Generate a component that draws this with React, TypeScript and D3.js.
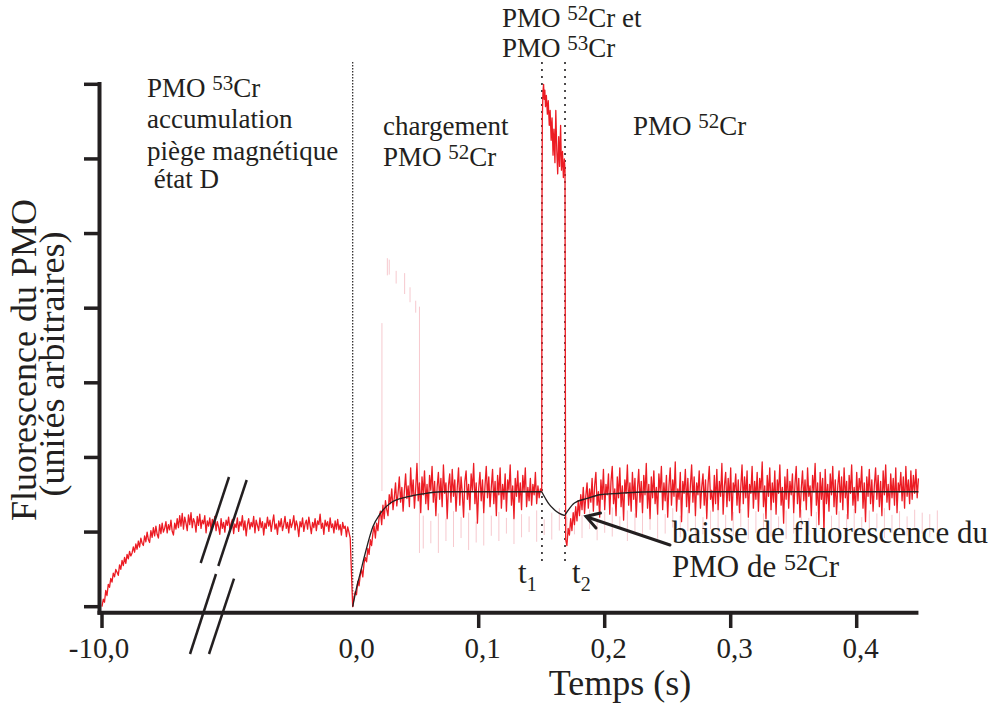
import React from 'react';
import * as d3 from 'd3';

// ---------- DATA ----------
// Left segment (before the axis break), time in s
const leftStart = -10.0;
const leftStep = 0.05;
const leftValues = [
  0.00, 0.10, 0.06, 0.22, 0.15, 0.30, 0.26, 0.38, 0.33, 0.45,
  0.40, 0.50, 0.46, 0.42, 0.56, 0.50, 0.62, 0.55, 0.66, 0.58,
  0.70, 0.64, 0.74, 0.68, 0.72, 0.80, 0.73, 0.84, 0.77, 0.88,
  0.80, 0.92, 0.85, 0.82, 0.95, 0.87, 1.00, 0.90, 0.86, 1.02,
  0.93, 1.06, 0.95, 1.08, 0.97, 0.92, 1.10, 0.98, 1.12, 1.00,
  1.05, 1.14, 0.99, 1.10, 1.03, 1.16, 1.01, 0.96, 1.12, 1.04,
  1.18, 1.06, 1.22, 1.08, 1.25, 1.04, 1.20, 1.12, 1.02, 1.23,
  1.10, 1.26, 1.06, 1.18, 1.13, 1.00, 1.21, 1.09, 1.24, 1.05,
  1.16, 1.11, 1.22, 0.99, 1.15, 1.08, 1.19, 1.03, 1.17, 1.10,
  1.21, 1.02, 1.14, 1.07, 0.97, 1.18, 1.05, 1.13, 1.00, 1.16,
  1.09, 1.20, 1.04, 1.12, 1.17, 0.98, 1.11, 1.06, 1.19, 1.01,
  1.14, 1.08, 1.22, 1.03, 1.15, 0.95, 1.10, 1.18, 1.04, 1.13,
  1.07, 1.21, 0.99, 1.16, 1.09, 1.02, 1.19, 1.06, 1.14, 0.96,
  1.12, 1.05, 1.20, 1.08, 1.16, 1.01, 1.13, 1.23, 1.04, 1.11,
  0.97, 1.15, 1.07, 1.18, 1.02, 1.10, 1.21, 1.05, 1.13, 0.99,
  1.17, 1.06, 1.12, 1.22, 1.03, 1.15, 1.08, 0.94, 1.14, 1.07,
  1.19, 1.01, 1.11, 1.16, 1.04, 1.20, 1.09, 0.98, 1.13, 1.06,
  1.18, 1.02, 1.15, 1.10, 1.24, 1.05, 1.12, 0.97, 1.16, 1.08,
  1.14, 1.01, 1.19, 1.06, 1.11, 0.99, 1.15, 1.04, 1.17, 1.03,
  1.10, 0.96, 1.13, 1.05, 1.08, 0.94, 1.07, 1.00, 0.92,
];

// Loading of the 52Cr MOT (0 -> t1)
const loadStart = 0;
const loadStep = 0.001;
const loadValues = [
  0.00, 0.12, 0.20, 0.16, 0.34, 0.28, 0.42, 0.50, 0.40, 0.58,
  0.66, 0.60, 0.78, 0.70, 0.90, 0.82, 0.98, 1.08, 0.92, 1.12,
  1.02, 1.20, 1.28, 1.10, 1.36, 1.18, 1.42, 1.30, 1.22, 1.50,
  1.38, 1.58, 1.30, 1.46, 1.66, 1.35, 1.52, 1.74, 1.40, 1.60,
  1.28, 1.55, 1.78, 1.45, 1.62, 1.34, 1.86, 1.48, 1.70, 1.32,
  1.58, 1.92, 1.42, 1.66, 1.26, 1.74, 1.50, 1.82, 1.38, 1.64,
  1.30, 1.76, 1.56, 1.88, 1.40, 1.68, 1.22, 1.60, 1.80, 1.44,
  1.72, 1.34, 1.90, 1.52, 1.66, 1.18, 1.62, 1.78, 1.40, 1.84,
  1.48, 1.70, 1.28, 1.60, 1.86, 1.36, 1.74, 1.52, 1.20, 1.68,
  1.82, 1.44, 1.64, 1.30, 1.78, 1.56, 1.92, 1.38, 1.66, 1.12,
  1.58, 1.80, 1.42, 1.70, 1.26, 1.62, 1.88, 1.46, 1.74, 1.34,
  1.60, 1.84, 1.38, 1.68, 1.22, 1.76, 1.50, 1.86, 1.32, 1.64,
  1.44, 1.78, 1.28, 1.70, 1.56, 1.90, 1.36, 1.62, 1.18, 1.72,
  1.48, 1.82, 1.40, 1.66, 1.30, 1.76, 1.54, 1.86, 1.34, 1.60,
  1.42, 1.72, 1.36, 1.64, 1.50, 1.80, 1.38, 1.62, 1.46, 1.58,
  1.54,
];

// Both MOTs (t1 -> t2)
const peakTimes = [
  0.1502, 0.1505, 0.1510, 0.1515, 0.1520, 0.1525, 0.1530, 0.1537, 0.1545, 0.1552,
  0.1560, 0.1567, 0.1575, 0.1582, 0.1590, 0.1597, 0.1605, 0.1612, 0.1620, 0.1627,
  0.1635, 0.1642, 0.1650, 0.1657, 0.1665, 0.1672, 0.1680, 0.1685,
];
const peakValues = [
  5.20, 6.55, 6.90, 7.00, 6.80, 6.92, 6.70, 6.85, 6.60, 6.78,
  6.45, 6.65, 6.25, 6.55, 6.05, 6.40, 5.95, 6.65, 6.10, 5.80,
  6.30, 5.90, 6.45, 5.85, 6.10, 5.75, 6.00, 5.85,
];

// After t2
const recStart = 0.169;
const recStep = 0.001;
const recValues = [
  0.90, 0.82, 1.05, 0.96, 1.18, 1.02, 1.26, 1.10, 1.34, 1.15,
  1.42, 1.22, 1.50, 1.30, 1.60, 1.25, 1.48, 1.66, 1.32, 1.58,
  1.40, 1.72, 1.28, 1.62, 1.80, 1.36, 1.54, 1.20, 1.70, 1.44,
  1.84, 1.30, 1.64, 1.50, 1.78, 1.24, 1.68, 1.88, 1.38, 1.58,
  1.22, 1.74, 1.46, 1.86, 1.34, 1.62, 1.16, 1.70, 1.52, 1.90,
  1.36, 1.66, 1.28, 1.80, 1.44, 1.72, 1.20, 1.58, 1.84, 1.40,
  1.68, 1.26, 1.76, 1.50, 1.92, 1.32, 1.64, 1.18, 1.74, 1.46,
  1.82, 1.38, 1.60, 1.24, 1.78, 1.54, 1.88, 1.30, 1.66, 1.42,
  1.76, 1.20, 1.62, 1.86, 1.36, 1.70, 1.48, 1.94, 1.28, 1.58,
  1.44, 1.80, 1.14, 1.68, 1.52, 1.84, 1.34, 1.72, 1.26, 1.62,
  1.90, 1.40, 1.74, 1.22, 1.66, 1.50, 1.82, 1.32, 1.60, 1.78,
  1.36, 1.70, 1.18, 1.64, 1.88, 1.44, 1.56, 1.28, 1.76, 1.38,
  1.84, 1.30, 1.68, 1.48, 1.92, 1.24, 1.62, 1.80, 1.34, 1.72,
  1.42, 1.86, 1.16, 1.66, 1.54, 1.78, 1.36, 1.70, 1.26, 1.60,
  1.90, 1.38, 1.74, 1.46, 1.82, 1.20, 1.64, 1.52, 1.88, 1.32,
  1.68, 1.44, 1.80, 1.28, 1.72, 1.56, 1.94, 1.34, 1.62, 1.18,
  1.76, 1.48, 1.86, 1.30, 1.66, 1.40, 1.82, 1.24, 1.70, 1.52,
  1.90, 1.36, 1.60, 1.12, 1.74, 1.44, 1.84, 1.32, 1.68, 1.50,
  1.78, 1.26, 1.64, 1.88, 1.38, 1.72, 1.20, 1.58, 1.82, 1.42,
  1.70, 1.30, 1.86, 1.48, 1.62, 1.22, 1.76, 1.54, 1.92, 1.36,
  1.66, 1.10, 1.80, 1.44, 1.72, 1.00, 1.84, 1.38, 1.64, 1.28,
  1.78, 1.50, 1.88, 1.34, 1.70, 1.24, 1.62, 1.82, 1.40, 1.74,
  1.30, 1.86, 1.46, 1.68, 1.18, 1.76, 1.52, 1.90, 1.36, 1.60,
  1.26, 1.80, 1.42, 1.72, 1.56, 1.88, 1.32, 1.66, 1.14, 1.74,
  1.48, 1.84, 1.38, 1.70, 1.28, 1.62, 1.86, 1.44, 1.76, 1.34,
  1.68, 1.22, 1.82, 1.50, 1.90, 1.40, 1.64, 1.30, 1.78, 1.46,
  1.72, 1.36, 1.86, 1.26, 1.66, 1.54, 1.80, 1.42, 1.74, 1.32,
  1.88, 1.48, 1.70, 1.38, 1.82, 1.44, 1.76, 1.52, 1.84, 1.46,
  1.72,
];

// Fitted curves (black)
const fitLoadTimes = [0, 0.003, 0.006, 0.01, 0.016, 0.022, 0.03, 0.043, 0.055, 0.07, 0.15];
const fitLoadValues = [0, 0.25, 0.45, 0.72, 1.07, 1.25, 1.39, 1.47, 1.51, 1.54, 1.54];
const fitDipTimes = [0.150, 0.153, 0.156, 0.160, 0.164, 0.1685];
const fitDipValues = [1.54, 1.45, 1.37, 1.30, 1.25, 1.22];
const fitRecTimes = [0.1685, 0.176, 0.186, 0.196, 0.212, 0.24, 0.449];
const fitRecValues = [1.23, 1.39, 1.45, 1.50, 1.52, 1.54, 1.54];

// Faint ghost trace
const ghostHiTimes = [0.0232, 0.0275, 0.0290, 0.0345, 0.0412, 0.0455, 0.0500, 0.0530];
const ghostHiTop = [3.80, 4.67, 4.65, 4.50, 4.47, 4.28, 4.10, 4.02];
const ghostHiBot = [1.55, 4.44, 4.45, 4.33, 4.19, 4.08, 3.94, 0.72];
const ghostLoStart = 0.056;
const ghostLoStep = 0.006;
const ghostLoTop = [
  1.22, 1.15, 1.25, 1.18, 1.28, 1.20, 1.26, 1.14, 1.30, 1.22,
  1.27, 1.19, 1.31, 1.24, 1.21, 1.29, 1.17, 1.26, 1.32, 1.20,
  1.28, 1.23, 1.30, 1.18, 1.27, 1.33, 1.21, 1.29, 1.25, 1.31,
  1.19, 1.28, 1.24, 1.32, 1.22, 1.30, 1.26, 1.20, 1.29, 1.33,
  1.23, 1.27, 1.31, 1.18, 1.28, 1.25, 1.32, 1.21, 1.29, 1.26,
  1.30, 1.19, 1.27, 1.33, 1.22, 1.28, 1.24, 1.31, 1.20, 1.29,
  1.25, 1.32, 1.23, 1.28, 1.21, 1.30, 1.26, 1.24, 1.29,
];
const ghostLoBot = [
  0.78, 0.85, 0.72, 0.88, 0.80, 0.92, 0.76, 0.86, 0.82, 0.95,
  0.88, 0.98, 0.84, 0.93, 1.00, 0.87, 0.96, 0.90, 1.02, 0.86,
  0.97, 0.92, 1.04, 0.89, 0.99, 0.94, 1.05, 0.88, 1.00, 0.96,
  1.03, 0.91, 0.98, 1.06, 0.93, 1.01, 0.89, 0.97, 1.04, 0.92,
  1.00, 0.95, 1.07, 0.90, 0.99, 1.03, 0.94, 1.05, 0.91, 0.98,
  1.02, 0.96, 1.06, 0.93, 1.00, 0.89, 1.04, 0.97, 1.01, 0.94,
  1.05, 0.92, 0.99, 1.03, 0.95, 1.06, 0.98, 0.93, 1.02,
];

// Axes
const yTickValues = [0, 1, 2, 3, 4, 5, 6, 7];
const xTickValues = [0.1, 0.2, 0.3, 0.4];
const xTickLabels = ['0,1', '0,2', '0,3', '0,4'];
const leftTickValue = -10;
const leftTickLabel = '-10,0';
const zeroLabel = '0,0';
const t1 = 0.1502;
const t2 = 0.1685;

// ---------- CHART ----------
const INK = '#231f20';
const RED = '#ec1c24';
const FONT = 'Liberation Serif';

export default function App() {
  const xR = d3.scaleLinear().domain([0, 0.4]).range([352.7, 856.7]);
  const xL = d3.scaleLinear().domain([-10, 0]).range([102, 352.7]);
  const y = d3.scaleLinear().domain([0, 7]).range([606.7, 84.3]);

  const pts: [number, number][] = [];
  leftValues.forEach((v, i) => pts.push([xL(leftStart + i * leftStep), y(v)]));
  loadValues.forEach((v, i) => pts.push([xR(loadStart + i * loadStep), y(v)]));
  peakValues.forEach((v, i) => pts.push([xR(peakTimes[i]), y(v)]));
  recValues.forEach((v, i) => pts.push([xR(recStart + i * recStep), y(v)]));
  const redPath = d3.line<[number, number]>()(pts) || '';

  const mkFit = (ts: number[], vs: number[]) =>
    d3
      .line<number>()
      .x((t) => xR(t))
      .y((_, i) => y(vs[i]))
      .curve(d3.curveMonotoneX)(ts) || '';

  const axisY = 612.7;
  const axisX = 99.5;
  const xEnd = xR(0.449);

  const sup = (n: string, fs = 21, dy = 7) => (
    <>
      <tspan dy={-dy} fontSize={fs}>{n}</tspan>
      <tspan dy={dy}>Cr</tspan>
    </>
  );

  return (
    <svg
      width={1001}
      height={707}
      style={{ position: 'absolute', left: 0, top: 0, background: '#fff' }}
      fontFamily={FONT}
    >
      <rect width={1001} height={707} fill="#fff" />

      {/* ghost trace */}
      <g stroke="#f2a7b0" strokeWidth={1} opacity={0.6}>
        {ghostHiTimes.map((t, i) => (
          <line key={'gh' + i} x1={xR(t)} x2={xR(t)} y1={y(ghostHiTop[i])} y2={y(ghostHiBot[i])} />
        ))}
        {ghostLoTop.map((v, i) => {
          const t = ghostLoStart + i * ghostLoStep;
          return <line key={'gl' + i} x1={xR(t)} x2={xR(t)} y1={y(v)} y2={y(ghostLoBot[i])} />;
        })}
      </g>

      {/* vertical dotted markers */}
      <line x1={xR(0)} x2={xR(0)} y1={62} y2={y(0)} stroke={INK} strokeWidth={1.2} strokeDasharray="1.5,1.5" />
      <line x1={xR(t1)} x2={xR(t1)} y1={62} y2={566} stroke={INK} strokeWidth={1.6} strokeDasharray="2,5" />
      <line x1={xR(t2)} x2={xR(t2)} y1={62} y2={566} stroke={INK} strokeWidth={1.6} strokeDasharray="2,5" />

      {/* data */}
      <path d={redPath} fill="none" stroke={RED} strokeWidth={1.3} strokeLinejoin="round" />

      {/* fits */}
      <g fill="none" stroke={INK} strokeWidth={1.3}>
        <path d={mkFit(fitLoadTimes, fitLoadValues)} />
        <path d={mkFit(fitDipTimes, fitDipValues)} />
        <path d={mkFit(fitRecTimes, fitRecValues)} />
      </g>

      {/* axes */}
      <g stroke={INK} strokeWidth={4}>
        <line x1={axisX} x2={axisX} y1={82} y2={axisY + 2} />
        <line x1={axisX - 2} x2={xEnd} y1={axisY} y2={axisY} />
        {yTickValues.map((v) => (
          <line key={'yt' + v} x1={84} x2={axisX} y1={y(v)} y2={y(v)} strokeWidth={3.5} />
        ))}
        {xTickValues.map((v) => (
          <line key={'xt' + v} x1={xR(v)} x2={xR(v)} y1={axisY} y2={628} strokeWidth={3.5} />
        ))}
        <line x1={xL(leftTickValue)} x2={xL(leftTickValue)} y1={axisY} y2={628} strokeWidth={3.5} />
      </g>

      {/* axis break marks */}
      <g stroke={INK} strokeWidth={2.5}>
        <line x1={200.7} y1={563} x2={229} y2={477} />
        <line x1={218.3} y1={566} x2={246.7} y2={480} />
        <line x1={216} y1={574} x2={190} y2={654} />
        <line x1={234} y1={578.7} x2={209} y2={654} />
      </g>

      {/* tick labels */}
      <g fontSize={29} fill={INK} textAnchor="middle" fontFamily={FONT}>
        <text x={xL(leftTickValue) - 3} y={658}>{leftTickLabel}</text>
        <text x={xR(0) + 4} y={658}>{zeroLabel}</text>
        {xTickValues.map((v, i) => (
          <text key={'xl' + v} x={xR(v) + 4} y={658}>{xTickLabels[i]}</text>
        ))}
      </g>

      {/* axis titles */}
      <g fontFamily={FONT} fill={INK} textAnchor="middle">
        <text x={620} y={695} fontSize={36}>Temps (s)</text>
        <text transform="translate(36,360) rotate(-90)" fontSize={36}>Fluorescence du PMO</text>
        <text transform="translate(64,364) rotate(-90)" fontSize={36}>(unités arbitraires)</text>
      </g>

      {/* annotations */}
      <g fontSize={27} fill={INK} fontFamily={FONT}>
        <text x={147} y={97}>PMO {sup('53')}</text>
        <text x={147} y={128}>accumulation</text>
        <text x={147} y={160}>piège magnétique</text>
        <text x={147} y={188}>{'\u00a0état D'}</text>

        <text x={383} y={135}>chargement</text>
        <text x={383} y={166}>PMO {sup('52')}</text>

        <text x={502} y={27}>PMO {sup('52')} et</text>
        <text x={502} y={57}>PMO {sup('53')}</text>

        <text x={633} y={135}>PMO {sup('52')}</text>
      </g>

      <g fontSize={31} fill={INK} fontFamily={FONT}>
        <text x={518} y={583}>t<tspan dy={8} fontSize={20}>1</tspan></text>
        <text x={572} y={583}>t<tspan dy={8} fontSize={20}>2</tspan></text>
        <text x={672} y={543}>baisse de fluorescence du</text>
        <text x={672} y={577}>PMO de {sup('52', 24, 7)}</text>
      </g>

      {/* arrow */}
      <g stroke={INK} strokeWidth={3} fill="none" strokeLinecap="round">
        <line x1={670} y1={545} x2={587} y2={517} />
        <polyline points="600.5,513 586,516.5 596,528" />
      </g>
    </svg>
  );
}
